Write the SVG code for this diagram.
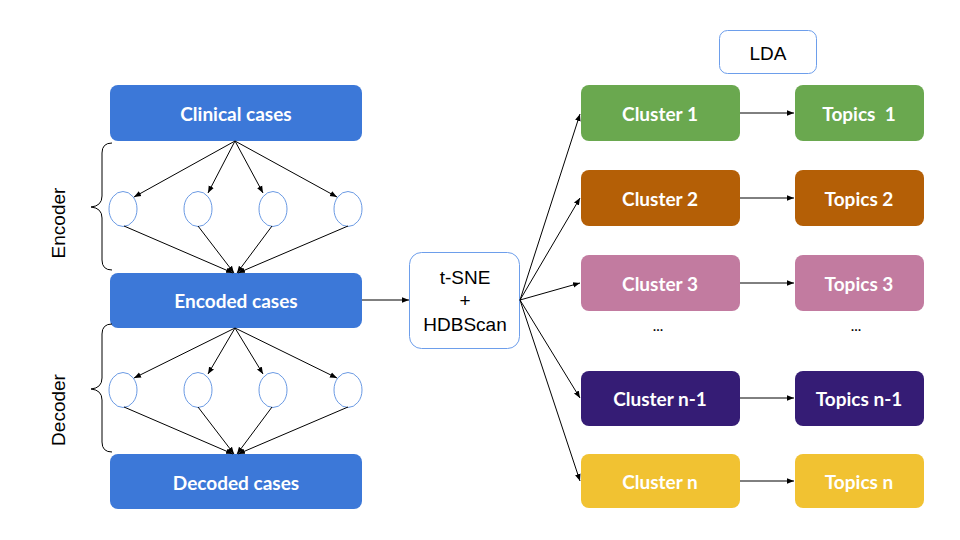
<svg xmlns="http://www.w3.org/2000/svg" width="960" height="540" viewBox="0 0 960 540">
<defs>
<marker id="ah" viewBox="0 0 10 10" refX="10" refY="5" markerWidth="7" markerHeight="7" markerUnits="userSpaceOnUse" orient="auto">
<path d="M0,1 L10,5 L0,9 z" fill="#000"/>
</marker>
<style>
.box{stroke:none}
.lbl{font-family:Lato,"Noto Sans",sans-serif;font-weight:bold;font-size:19px;fill:#fff;text-anchor:middle;dominant-baseline:central;white-space:pre}
.plain{font-family:"Liberation Sans",Arial,sans-serif;font-size:19px;fill:#000;text-anchor:middle;dominant-baseline:central}
.neuron{fill:#fff;stroke:#5a8ee0;stroke-width:0.9}
.conn line,.conn path{stroke:#000;stroke-width:1;fill:none}
.arr{marker-end:url(#ah)}
.brace{stroke:#000;stroke-width:1;fill:none}
.dots{font-family:Lato,sans-serif;font-size:15px;fill:#000;text-anchor:middle}
</style>
</defs>
<rect width="960" height="540" fill="#fff"/>

<g id="clinical"><rect class="box" x="110" y="85" width="252" height="56" rx="8" fill="#3c78d8"/><text class="lbl" x="236" y="113">Clinical cases</text></g>
<g id="encoded"><rect class="box" x="110" y="273" width="252" height="55" rx="8" fill="#3c78d8"/><text class="lbl" x="236" y="300">Encoded cases</text></g>
<g id="decoded"><rect class="box" x="110" y="454" width="252" height="55" rx="8" fill="#3c78d8"/><text class="lbl" x="236" y="482">Decoded cases</text></g>

<g id="enc-neurons">
<ellipse class="neuron" cx="123" cy="209" rx="14" ry="17.5"/>
<ellipse class="neuron" cx="198" cy="209" rx="14" ry="17.5"/>
<ellipse class="neuron" cx="273" cy="209" rx="14" ry="17.5"/>
<ellipse class="neuron" cx="348" cy="209" rx="14" ry="17.5"/>
</g>
<g id="dec-neurons">
<ellipse class="neuron" cx="123" cy="390" rx="14" ry="17.5"/>
<ellipse class="neuron" cx="198" cy="390" rx="14" ry="17.5"/>
<ellipse class="neuron" cx="273" cy="390" rx="14" ry="17.5"/>
<ellipse class="neuron" cx="348" cy="390" rx="14" ry="17.5"/>
</g>

<g id="encoder-label">
<path class="brace" d="M112,143 Q102,143 102,153 L102,196 Q102,206 91,207 Q102,208 102,218 L102,260 Q102,270 112,270"/>
<text class="plain" transform="translate(58,223) rotate(-90)">Encoder</text>
</g>
<g id="decoder-label">
<path class="brace" d="M112,324 Q102,324 102,334 L102,378 Q102,388 91,389 Q102,390 102,400 L102,442 Q102,452 112,452"/>
<text class="plain" transform="translate(58,410) rotate(-90)">Decoder</text>
</g>

<g id="tsne"><rect x="409.5" y="252.5" width="110" height="96" rx="12" fill="#fff" stroke="#6d9eeb" stroke-width="1"/>
<text class="plain" x="465" y="277">t-SNE</text>
<text class="plain" x="465" y="300">+</text>
<text class="plain" x="465" y="324">HDBScan</text></g>

<g id="lda"><rect x="719.5" y="30.5" width="97" height="43" rx="8" fill="#fff" stroke="#6d9eeb" stroke-width="1"/>
<text class="plain" x="768" y="53">LDA</text></g>

<g id="cluster1"><rect x="581" y="85" width="159" height="56" rx="8" fill="#6aa84f"/><text class="lbl" x="660" y="113">Cluster 1</text></g>
<g id="cluster2"><rect x="581" y="170" width="159" height="56" rx="8" fill="#b45f06"/><text class="lbl" x="660" y="198">Cluster 2</text></g>
<g id="cluster3"><rect x="581" y="255" width="159" height="56" rx="8" fill="#c27ba0"/><text class="lbl" x="660" y="283">Cluster 3</text></g>
<g id="clustern1"><rect x="581" y="371" width="159" height="55" rx="8" fill="#351c75"/><text class="lbl" x="660" y="398">Cluster n-1</text></g>
<g id="clustern"><rect x="581" y="454" width="159" height="54" rx="8" fill="#f1c232"/><text class="lbl" x="660" y="481">Cluster n</text></g>

<g id="topics1"><rect x="795" y="85" width="129" height="56" rx="8" fill="#6aa84f"/><text class="lbl" x="859" y="113" xml:space="preserve">Topics  1</text></g>
<g id="topics2"><rect x="795" y="170" width="129" height="56" rx="8" fill="#b45f06"/><text class="lbl" x="859" y="198">Topics 2</text></g>
<g id="topics3"><rect x="795" y="255" width="129" height="56" rx="8" fill="#c27ba0"/><text class="lbl" x="859" y="283">Topics 3</text></g>
<g id="topicsn1"><rect x="795" y="371" width="129" height="55" rx="8" fill="#351c75"/><text class="lbl" x="859" y="398">Topics n-1</text></g>
<g id="topicsn"><rect x="795" y="454" width="129" height="54" rx="8" fill="#f1c232"/><text class="lbl" x="859" y="481">Topics n</text></g>

<g id="ellipsis">
<text class="dots" x="658" y="331">...</text>
<text class="dots" x="856" y="331">...</text>
</g>

<g id="connectors" class="conn">
<line class="arr" x1="235" y1="141" x2="134" y2="197"/>
<line class="arr" x1="235" y1="141" x2="208" y2="193"/>
<line class="arr" x1="235" y1="141" x2="263" y2="193"/>
<line class="arr" x1="235" y1="141" x2="337" y2="197"/>
<line class="arr" x1="124" y1="226" x2="233" y2="273"/>
<line class="arr" x1="198" y1="226" x2="234" y2="273"/>
<line class="arr" x1="272" y1="226" x2="237" y2="273"/>
<line class="arr" x1="348" y1="226" x2="238" y2="273"/>

<line class="arr" x1="235" y1="328" x2="134" y2="378"/>
<line class="arr" x1="235" y1="328" x2="208" y2="374"/>
<line class="arr" x1="235" y1="328" x2="263" y2="374"/>
<line class="arr" x1="235" y1="328" x2="337" y2="378"/>
<line class="arr" x1="124" y1="407" x2="233" y2="454"/>
<line class="arr" x1="198" y1="407" x2="234" y2="454"/>
<line class="arr" x1="272" y1="407" x2="237" y2="454"/>
<line class="arr" x1="348" y1="407" x2="238" y2="454"/>

<line class="arr" x1="362" y1="300" x2="409" y2="300"/>

<line class="arr" x1="520" y1="300" x2="580" y2="114"/>
<line class="arr" x1="520" y1="300" x2="580" y2="198"/>
<line class="arr" x1="520" y1="300" x2="580" y2="283"/>
<line class="arr" x1="520" y1="300" x2="580" y2="398"/>
<line class="arr" x1="520" y1="300" x2="580" y2="481"/>

<line class="arr" x1="740" y1="113" x2="794" y2="113"/>
<line class="arr" x1="740" y1="198" x2="794" y2="198"/>
<line class="arr" x1="740" y1="283" x2="794" y2="283"/>
<line class="arr" x1="740" y1="398" x2="794" y2="398"/>
<line class="arr" x1="740" y1="481" x2="794" y2="481"/>
</g>
</svg>
